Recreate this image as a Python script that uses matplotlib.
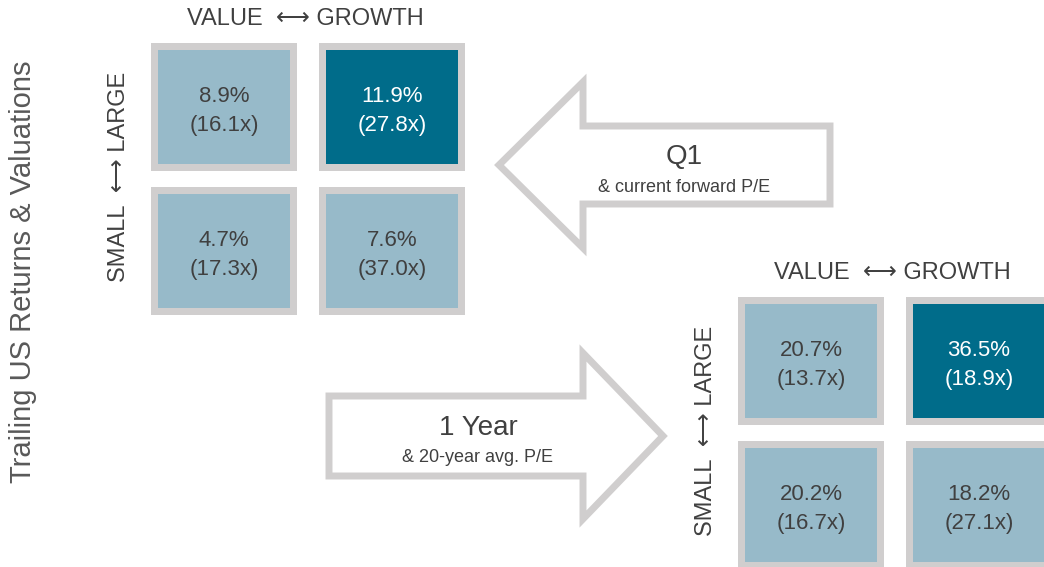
import matplotlib
matplotlib.use("Agg")
import numpy as np
import matplotlib.pyplot as plt
from matplotlib.patches import Rectangle, Polygon

plt.rcParams['font.family'] = ['Liberation Sans', 'DejaVu Sans']

# Style-box data: cells in order large value, large growth, small value, small growth
q1_returns = [8.9, 11.9, 4.7, 7.6]
q1_pe = [16.1, 27.8, 17.3, 37.0]
yr_returns = [20.7, 36.5, 20.2, 18.2]
yr_pe = [13.7, 18.9, 16.7, 27.1]

col_label = "VALUE  \u27f7 GROWTH"
row_label = "SMALL  \u27f7 LARGE"
title = "Trailing US Returns & Valuations"

LIGHT = "#97bac9"
DARK = "#006c8a"
BORDER = "#d0cece"
TXT = "#404040"

W, H = 1044, 567
fig = plt.figure(figsize=(W / 100, H / 100), dpi=100)
ax = fig.add_axes([0, 0, 1, 1])
ax.set_xlim(0, W)
ax.set_ylim(H, 0)
ax.axis('off')


def draw_grid(x0, y0, rets, pes):
    cw, ch, bw = 146, 128, 7
    sx, sy = 168, 144
    best = int(np.argmax(rets))
    for i, (r, pe) in enumerate(zip(rets, pes)):
        row, col = divmod(i, 2)
        x = x0 + col * sx
        y = y0 + row * sy
        ax.add_patch(Rectangle((x, y), cw, ch, facecolor=BORDER, edgecolor='none'))
        fc = DARK if i == best else LIGHT
        ax.add_patch(Rectangle((x + bw, y + bw), cw - 2 * bw, ch - 2 * bw,
                               facecolor=fc, edgecolor='none'))
        tc = 'white' if i == best else TXT
        cx, cy = x + cw / 2, y + ch / 2
        ax.text(cx, cy - 11, f"{r:.1f}%", ha='center', va='center', fontsize=16, color=tc)
        ax.text(cx, cy + 18, f"({pe:.1f}x)", ha='center', va='center', fontsize=16, color=tc)
    gx = x0 + (sx + cw) / 2
    gy = y0 + (sy + ch) / 2
    ax.text(gx - 3, y0 - 24, col_label, ha='center', va='center', fontsize=17, color=TXT)
    ax.text(x0 - 32, gy - 2, row_label, ha='center', va='center', fontsize=17,
            color=TXT, rotation=90)


def draw_arrow(tail, tip, shaft_half, head_half, head_x, label, sub):
    ty = tip[1]
    pts = [(tail, ty - shaft_half), (head_x, ty - shaft_half), (head_x, ty - head_half),
           tip, (head_x, ty + head_half), (head_x, ty + shaft_half), (tail, ty + shaft_half)]
    ax.add_patch(Polygon(pts, closed=True, facecolor='white', edgecolor=BORDER,
                         linewidth=5, joinstyle='miter'))
    # text sits a little toward the head of the arrow
    mx = (tail + head_x) / 2 + 22 * np.sign(tip[0] - tail)
    ax.text(mx, ty - 8, label, ha='center', va='center', fontsize=20, color=TXT)
    ax.text(mx, ty + 22, sub, ha='center', va='center', fontsize=13, color=TXT)


draw_grid(151, 43, q1_returns, q1_pe)
draw_grid(738, 297, yr_returns, yr_pe)

draw_arrow(830, (499, 165), 39, 83, 583, "Q1", "& current forward P/E")
draw_arrow(329, (663, 436), 40, 83, 583, "1 Year", "& 20-year avg. P/E")

ax.text(23, 272, title, ha='center', va='center', fontsize=21, color="#595959", rotation=90)

fig.savefig("out.png", dpi=100)
